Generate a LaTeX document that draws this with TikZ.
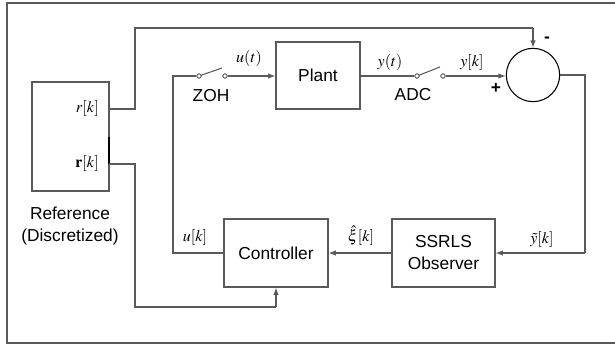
\documentclass[tikz,border=0pt]{standalone}
\usepackage{mathptmx}
\usepackage{fontspec}
\setsansfont{Liberation Sans}
\usetikzlibrary{arrows.meta}
\definecolor{linec}{RGB}{90,90,90}
\begin{document}
\begin{tikzpicture}[x=0.75pt,y=-0.75pt,
  wire/.style={draw=linec, line width=0.8pt},
  arr/.style={wire, -{Latex[length=5.5pt,width=4pt]}},
  blk/.style={draw=linec, line width=0.8pt, font=\sffamily\fontsize{13}{16.5}\selectfont, align=center, inner sep=0pt},
  txt/.style={font=\sffamily\fontsize{13}{16.5}\selectfont, align=center, inner sep=0pt},
  mlbl/.style={font=\fontsize{12}{14}\selectfont, inner sep=0pt},
  contact/.style={circle, draw=linec, fill=white, line width=0.6pt, inner sep=0pt, minimum size=3.2pt}]
\useasboundingbox (0,0) rectangle (615,345);
% frame
\draw[wire] (620,3) -- (7,3) -- (7,343) -- (620,343);
% blocks
\node[blk, minimum width=57.75pt, minimum height=81.75pt] (ref) at (70.5,136.5) {};
\node[blk, minimum width=63pt, minimum height=50.25pt] (plant) at (318,75.5) {Plant};
\node[blk, minimum width=78pt, minimum height=51pt] (ctrl) at (276,253) {Controller};
\node[blk, minimum width=77.25pt, minimum height=51pt] (obs) at (443.5,253) {SSRLS\\Observer};
\node[circle, draw=black, line width=0.8pt, minimum size=40pt, inner sep=0pt] (sum) at (533,75) {};
% labels
\node[mlbl, anchor=east] (rk) at (99,109) {$r[k]$};
\node[mlbl, anchor=east] (rbk) at (99,164) {$\mathbf{r}[k]$};
\node[txt] (reflbl) at (70,226) {Reference\\(Discretized)};
\node[mlbl] (ut) at (249,59) {$u(t)$};
\node[mlbl] (yt) at (390,63) {$y(t)$};
\node[mlbl] (yk) at (472,63) {$y[k]$};
\node[txt] (zoh) at (211,96) {ZOH};
\node[txt] (adc) at (413,95) {ADC};
\node[mlbl] (uk) at (195,238) {$u[k]$};
\node[mlbl] (xik) at (361,236) {$\hat{\xi}[k]$};
\node[mlbl] (ytk) at (542,240) {$\tilde{y}[k]$};
\node[txt, font=\sffamily\bfseries\fontsize{13}{14}\selectfont] (plus) at (496,88) {+};
\node[txt, font=\sffamily\bfseries\fontsize{13}{14}\selectfont] (minus) at (547,40) {-};
% coordinates
\coordinate (rout) at (109,109);
\coordinate (rbout) at (109,164);
\coordinate (a1) at (135,109);
\coordinate (a2) at (135,28);
\coordinate (b1) at (135,164);
\coordinate (b2) at (135,307);
\coordinate (uk1) at (173,253);
\coordinate (uk2) at (173,76);
\coordinate (zohlev) at (222,68);
\coordinate (adclev) at (440,67);
\coordinate (e1) at (585,75);
\coordinate (e2) at (585,253);
% thick stub on reference box edge
\draw[draw=black, line width=1.4pt] (109,137) -- (rbout);
% switches
\node[contact] (z1) at (199,76) {};
\node[contact] (z2) at (225,76) {};
\node[contact] (d1) at (417,76) {};
\node[contact] (d2) at (443,76) {};
% connectors
\draw[wire] (rout) -- (a1) -- (a2) -- (a2 -| sum.north) coordinate (a3);
\draw[arr] (a3) -- (sum.north);
\draw[wire] (rbout) -- (b1) -- (b2) -- (b2 -| ctrl.south) coordinate (b3);
\draw[arr] (b3) -- (ctrl.south);
\draw[wire] (ctrl.west) -- (uk1) -- (uk2) -- (z1);
\draw[wire] (z1.center) -- (zohlev);
\draw[arr] (z2) -- (plant.west |- z2);
\draw[wire] (plant.east |- d1) -- (d1);
\draw[wire] (d1.center) -- (adclev);
\draw[arr] (d2) -- (sum.west |- d2);
\draw[wire] (sum.east) -- (e1) -- (e2);
\draw[arr] (e2) -- (obs.east);
\draw[arr] (obs.west) -- (ctrl.east);
\node[contact] at (z1) {};
\node[contact] at (z2) {};
\node[contact] at (d1) {};
\node[contact] at (d2) {};
\end{tikzpicture}
\end{document}
